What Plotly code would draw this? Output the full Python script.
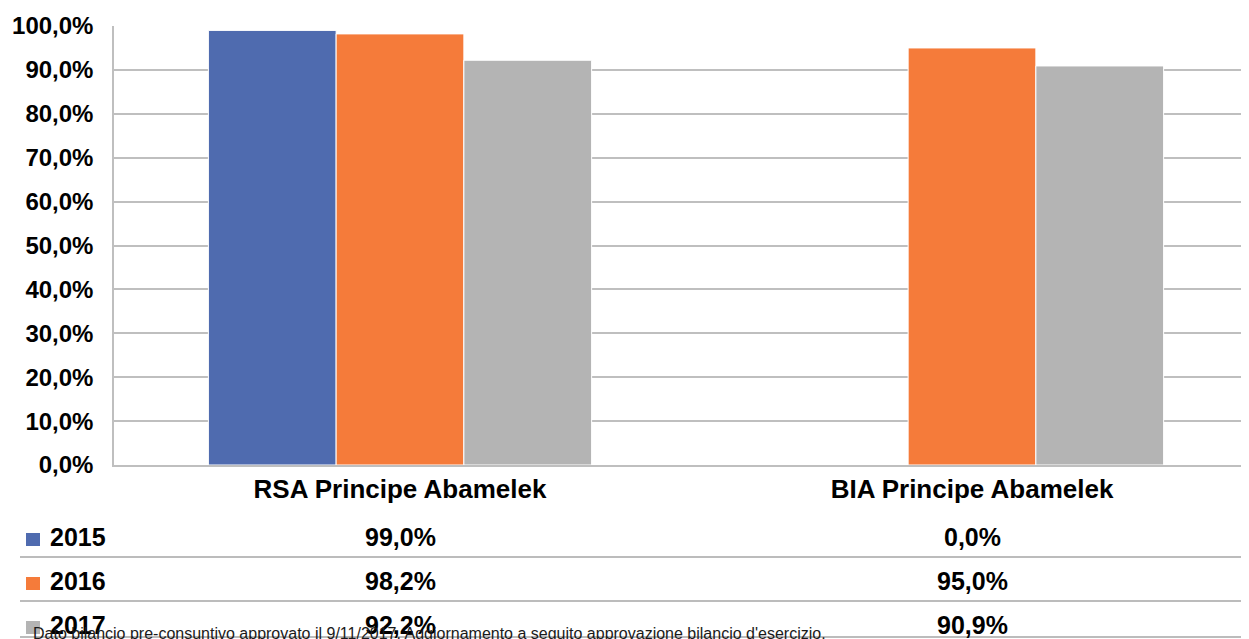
import plotly.graph_objects as go

categories = ["RSA Principe Abamelek", "BIA Principe Abamelek"]
series_names = ["2015", "2016", "2017"]
values_2015 = [99.0, 0.0]
values_2016 = [98.2, 95.0]
values_2017 = [92.2, 90.9]
colors = ["#4F6BAF", "#F57B3A", "#B4B4B4"]
y_ticks = [0, 10, 20, 30, 40, 50, 60, 70, 80, 90, 100]
footnote = "Dato bilancio pre-consuntivo approvato il 9/11/2017. Aggiornamento a seguito approvazione bilancio d'esercizio."

# the page places the figure 8px from its top-left corner
OFF = 8
SW, SH = 1249, 639               # screen size
W, H = SW - OFF, SH - OFF        # figure size
plot_left, plot_top, plot_bottom = 114, 26, 465   # screen pixels
L = plot_left - OFF
T = plot_top - OFF
B = H - (plot_bottom - OFF)
R = 0
PW, PH = W - L - R, H - T - B

def fmt(v):
    return f"{v:.1f}".replace(".", ",") + "%"

def px_x(p):
    return (p - OFF - L) / PW

def px_y(p):
    return (H - B - (p - OFF)) / PH

FONT = "Liberation Sans, Arial, sans-serif"
all_series = [values_2015, values_2016, values_2017]
xs = list(range(len(categories)))

fig = go.Figure()
for name, vals, col in zip(series_names, all_series, colors):
    fig.add_trace(go.Bar(x=xs, y=vals, name=name,
                         marker=dict(color=col, line=dict(color="white", width=1)),
                         showlegend=False))

annotations = []
shapes = []
row_centers = [537, 581, 625]
for i, (name, vals, col) in enumerate(zip(series_names, all_series, colors)):
    yc = row_centers[i]
    shapes.append(dict(type="rect", xref="paper", yref="paper",
                       x0=px_x(26), x1=px_x(40), y0=px_y(yc + 9), y1=px_y(yc - 4),
                       fillcolor=col, line=dict(width=0)))
    annotations.append(dict(xref="paper", yref="paper", x=px_x(48), y=px_y(yc), text=name,
                            showarrow=False, xanchor="left", yanchor="middle",
                            font=dict(family=FONT, size=25, color="black", weight="bold")))
    for xi, v in zip(xs, vals):
        annotations.append(dict(xref="x", yref="paper", x=xi, y=px_y(yc), text=fmt(v),
                                showarrow=False, xanchor="center", yanchor="middle",
                                font=dict(family=FONT, size=25, color="black", weight="bold")))

for yl in [557, 601, 637]:
    shapes.append(dict(type="line", xref="paper", yref="paper",
                       x0=px_x(20), x1=1, y0=px_y(yl), y1=px_y(yl),
                       line=dict(color="#A6A6A6", width=1.5)))

annotations.append(dict(xref="paper", yref="paper", x=px_x(31), y=px_y(633), text=footnote,
                        showarrow=False, xanchor="left", yanchor="middle",
                        font=dict(family=FONT, size=16, color="#1a1a1a")))

center0 = 400     # screen x of first category centre
spacing = 572     # screen px between category centres
x_lo = (plot_left - center0) / spacing
x_hi = (SW - center0) / spacing

fig.update_layout(
    width=W, height=H,
    margin=dict(l=L, r=R, t=T, b=B, pad=0),
    paper_bgcolor="white", plot_bgcolor="white",
    barmode="group", bargap=0.33, bargroupgap=0,
    annotations=annotations, shapes=shapes,
    font=dict(family=FONT, color="black"),
)
fig.update_xaxes(range=[x_lo, x_hi], tickvals=xs, ticktext=categories,
                 tickfont=dict(family=FONT, size=26, color="black", weight="bold"),
                 showline=True, linecolor="#BFBFBF", linewidth=1.5, showgrid=False,
                 ticks="", ticklabelstandoff=0, zeroline=False)
fig.update_yaxes(range=[0, 100], tickvals=y_ticks, ticktext=[fmt(v) for v in y_ticks],
                 tickfont=dict(family=FONT, size=24, color="black", weight="bold"),
                 showline=True, linecolor="#BFBFBF", linewidth=1.5,
                 showgrid=True, gridcolor="#BFBFBF", gridwidth=1.5,
                 ticks="", ticklabelstandoff=14, zeroline=False)

fig.write_html("out.html")
